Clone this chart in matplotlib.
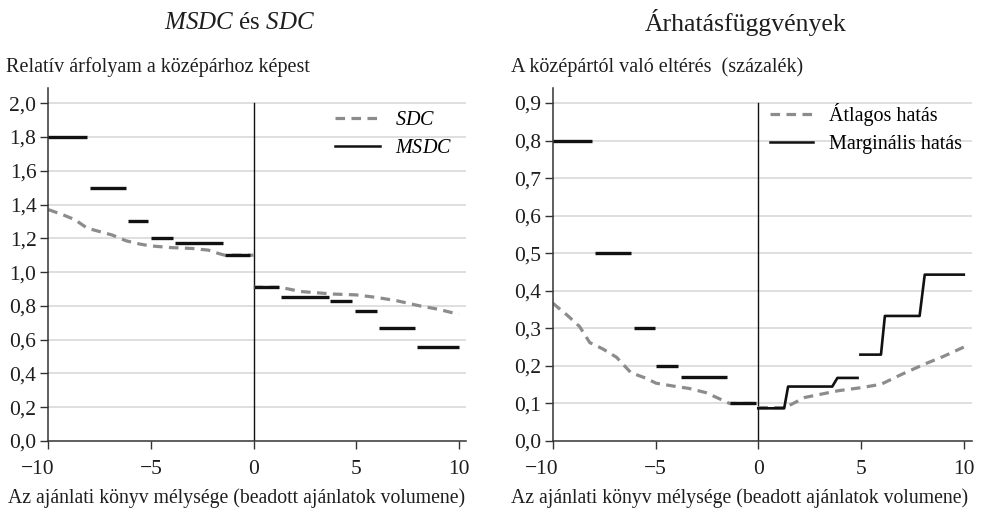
import matplotlib
matplotlib.use("Agg")
import matplotlib.pyplot as plt
from matplotlib.lines import Line2D

plt.rcParams['font.family'] = ['Liberation Serif', 'DejaVu Serif']
plt.rcParams['mathtext.fontset'] = 'custom'
plt.rcParams['mathtext.rm'] = 'Liberation Serif'
plt.rcParams['mathtext.it'] = 'Liberation Serif:italic'

# ---------------- data: left panel (MSDC és SDC) ----------------
msdc_start = [-10, -7.95, -6.1, -5.0, -3.85, -1.4, 0.0, 1.32, 3.74, 4.96, 6.1, 7.96]
msdc_end   = [-8.1, -6.22, -5.12, -3.92, -1.5, -0.15, 1.26, 3.68, 4.82, 6.0, 7.88, 10.0]
msdc_val   = [1.80, 1.50, 1.30, 1.20, 1.17, 1.10, 0.91, 0.855, 0.83, 0.77, 0.667, 0.555]

sdc_left_x  = [-10, -9.3, -8.7, -8.1, -7.5, -6.9, -6.2, -5.5, -5.0, -4.0, -3.0, -2.2, -1.7, -1.4, 0.0]
sdc_left_y  = [1.37, 1.34, 1.31, 1.26, 1.24, 1.22, 1.185, 1.165, 1.155, 1.145, 1.14, 1.13, 1.11, 1.10, 1.10]
sdc_right_x = [0.0, 1.3, 2.3, 3.9, 5.0, 6.0, 7.0, 8.1, 9.0, 10.0]
sdc_right_y = [0.91, 0.91, 0.885, 0.87, 0.865, 0.85, 0.83, 0.80, 0.78, 0.75]

# ---------------- data: right panel (Árhatásfüggvények) ----------------
marg_start = [-10, -7.93, -6.06, -4.98, -3.77, -1.38]
marg_end   = [-8.08, -6.19, -5.05, -3.9, -1.54, -0.1]
marg_val   = [0.80, 0.50, 0.30, 0.20, 0.17, 0.10]
marg_r1_x = [0.0, 1.26, 1.45, 3.6, 3.85, 4.83]
marg_r1_y = [0.087, 0.087, 0.145, 0.145, 0.168, 0.168]
marg_r2_x = [4.97, 5.97, 6.16, 7.85, 8.1, 10.0]
marg_r2_y = [0.23, 0.23, 0.333, 0.333, 0.443, 0.443]

avg_left_x  = [-10, -9.3, -8.7, -8.2, -7.56, -6.9, -6.2, -5.46, -4.98, -4.0, -3.37, -2.56, -1.67, -1.4, 0.0]
avg_left_y  = [0.367, 0.335, 0.305, 0.262, 0.245, 0.223, 0.182, 0.167, 0.154, 0.145, 0.14, 0.129, 0.107, 0.10, 0.10]
avg_right_x = [0.0, 1.3, 2.27, 3.9, 5.0, 5.97, 7.0, 8.1, 9.0, 10.0]
avg_right_y = [0.089, 0.089, 0.116, 0.134, 0.142, 0.151, 0.178, 0.205, 0.225, 0.25]

left_yticks  = [0.0, 0.2, 0.4, 0.6, 0.8, 1.0, 1.2, 1.4, 1.6, 1.8, 2.0]
right_yticks = [0.0, 0.1, 0.2, 0.3, 0.4, 0.5, 0.6, 0.7, 0.8, 0.9]
xticks = [-10, -5, 0, 5, 10]

W, H = 982, 520
fig = plt.figure(figsize=(W / 100, H / 100), dpi=100)

BLACK = '#111111'
GREY = '#8c8c8c'
GRID = '#dcdcdc'
TXT = '#1e1e1e'
FS = 14.5
TFS = 15.5


def fmt_x(v):
    return str(v).replace('-', '\u2212')


def style_axes(ax, yticks, ytop, xright, ymaxline):
    ax.set_xlim(-10, xright)
    ax.set_ylim(0, ytop)
    ax.set_yticks(yticks)
    ax.set_yticklabels([f"{v:.1f}".replace('.', ',') for v in yticks])
    ax.set_xticks(xticks)
    # the first label is drawn separately (slightly shifted left, as in the original)
    ax.set_xticklabels([''] + [fmt_x(v) for v in xticks[1:]])
    for s in ['top', 'right']:
        ax.spines[s].set_visible(False)
    for s in ['left', 'bottom']:
        ax.spines[s].set_color('#333333')
        ax.spines[s].set_linewidth(1.1)
    ax.tick_params(axis='both', direction='out', length=5.5, width=1.0,
                   colors='#333333', labelcolor=TXT, labelsize=TFS)
    ax.tick_params(axis='y', pad=3)
    ax.tick_params(axis='x', pad=8)
    ax.annotate(fmt_x(xticks[0]), xy=(xticks[0], 0), xycoords='data',
                xytext=(-11, -(5.5 + 8) * 100 / 72), textcoords='offset pixels',
                ha='center', va='top', fontsize=TFS, color=TXT, annotation_clip=False)
    for v in yticks[1:]:
        ax.axhline(v, color=GRID, lw=1.3, zorder=0)
    ax.plot([0, 0], [0, ymaxline], color=BLACK, lw=1.0, zorder=1)


# ---------------- left panel ----------------
L0, R0, T0, B0 = 48.3, 466.0, 88.0, 441.0
axL = fig.add_axes([L0 / W, 1 - B0 / H, (R0 - L0) / W, (B0 - T0) / H])
style_axes(axL, left_yticks, 2.09, 10.35, 2.0)
axL.plot(sdc_left_x, sdc_left_y, color=GREY, lw=2.3, dashes=(3, 2), zorder=2)
axL.plot(sdc_right_x, sdc_right_y, color=GREY, lw=2.3, dashes=(3, 2), zorder=2)
for a, b, v in zip(msdc_start, msdc_end, msdc_val):
    axL.plot([a, b], [v, v], color=BLACK, lw=2.4, solid_capstyle='butt', zorder=3)

hL = [Line2D([], [], color=GREY, lw=2.3, dashes=(3, 2)),
      Line2D([], [], color=BLACK, lw=1.8)]
axL.legend(hL, ['$\\mathit{SDC}$', '$\\mathit{MSDC}$'], loc='upper left',
           bbox_to_anchor=((335 - L0) / (R0 - L0), 1 - (111 - T0) / (B0 - T0)),
           frameon=False, fontsize=FS, handlelength=2.25, handletextpad=0.75,
           labelspacing=0.45, borderpad=0, borderaxespad=0)

# ---------------- right panel ----------------
L1, R1 = 552.8, 972.0
axR = fig.add_axes([L1 / W, 1 - B0 / H, (R1 - L1) / W, (B0 - T0) / H])
style_axes(axR, right_yticks, 0.94, 10.4, 0.9)
axR.plot(avg_left_x, avg_left_y, color=GREY, lw=2.3, dashes=(3, 2), zorder=2)
axR.plot(avg_right_x, avg_right_y, color=GREY, lw=2.3, dashes=(3, 2), zorder=2)
for a, b, v in zip(marg_start, marg_end, marg_val):
    axR.plot([a, b], [v, v], color=BLACK, lw=2.4, solid_capstyle='butt', zorder=3)
axR.plot(marg_r1_x, marg_r1_y, color=BLACK, lw=1.9, zorder=3)
axR.plot(marg_r2_x, marg_r2_y, color=BLACK, lw=1.9, zorder=3)

hR = [Line2D([], [], color=GREY, lw=2.3, dashes=(3, 2)),
      Line2D([], [], color=BLACK, lw=1.8)]
axR.legend(hR, ['Átlagos hatás', 'Marginális hatás'], loc='upper left',
           bbox_to_anchor=((770 - L1) / (R1 - L1), 1 - (103.5 - T0) / (B0 - T0)),
           frameon=False, fontsize=FS, handlelength=2.15, handletextpad=0.8,
           labelspacing=0.4, borderpad=0, borderaxespad=0)

# ---------------- texts ----------------
fig.text(240 / W, 1 - 23 / H, '$\\mathit{MSDC}$ és $\\mathit{SDC}$', ha='center', va='center',
         fontsize=18, color=TXT)
fig.text(746 / W, 1 - 23 / H, 'Árhatásfüggvények', ha='center', va='center',
         fontsize=18.5, color=TXT)
fig.text(6 / W, 1 - 67 / H, 'Relatív árfolyam a középárhoz képest', ha='left', va='center',
         fontsize=FS, color=TXT)
fig.text(511 / W, 1 - 67 / H, 'A középártól való eltérés  (százalék)', ha='left', va='center',
         fontsize=FS, color=TXT)
fig.text(237 / W, 1 - 498 / H, 'Az ajánlati könyv mélysége (beadott ajánlatok volumene)',
         ha='center', va='center', fontsize=14.2, color=TXT)
fig.text(740 / W, 1 - 498 / H, 'Az ajánlati könyv mélysége (beadott ajánlatok volumene)',
         ha='center', va='center', fontsize=14.2, color=TXT)

fig.savefig('out.png', dpi=100)
